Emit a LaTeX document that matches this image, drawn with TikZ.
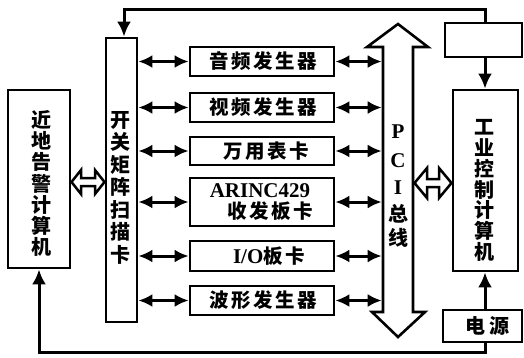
\documentclass[tikz,border=0pt]{standalone}
\usepackage{fontspec}
\setmainfont{Liberation Serif}
\newfontfamily\cjk{Noto Sans CJK SC}
\newfontfamily\cjkls{Noto Sans CJK SC}[LetterSpace=13]
\usetikzlibrary{arrows.meta,calc}
\tikzset{
  box/.style={draw, line width=2.8pt, inner sep=0pt, fill=white},
  arr/.style={line width=3pt, -{Latex[length=15pt,width=14pt]}},
  darr/.style={line width=3pt, {Latex[length=14pt,width=13pt]}-{Latex[length=14pt,width=13pt]}},
  hollow/.style={line width=2.5pt, fill=white, line join=miter},
  vtxt/.style={font=\cjk\bfseries\fontsize{20}{21}\selectfont, align=center, inner sep=0pt},
  mtxt/.style={font=\cjkls\bfseries\fontsize{19.5}{21}\selectfont, align=center, inner sep=0pt},
  ltxt/.style={font=\bfseries\fontsize{21}{24}\selectfont, inner sep=0pt}
}
\begin{document}
\begin{tikzpicture}[x=1pt,y=-1pt]
\useasboundingbox (0,0) rectangle (524,357);
% boxes
\node[box, minimum width=62pt, minimum height=178pt] (lbox) at (39,179) {};
\node[box, minimum width=31pt, minimum height=284pt] (sw) at (121.5,180) {};
\node[box, minimum width=144pt, minimum height=29pt, mtxt] (m1) at (262,61.5) {\hspace*{2pt}音频发生器};
\node[box, minimum width=144pt, minimum height=29pt, mtxt] (m2) at (262,107.5) {\hspace*{2pt}视频发生器};
\node[box, minimum width=144pt, minimum height=28pt, mtxt] (m3) at (262,151) {\hspace*{8pt}万用表卡};
\node[box, minimum width=144pt, minimum height=48pt, mtxt] (m4) at (262,202) {\hspace*{-4pt}{\rmfamily\fontsize{21}{21}\selectfont ARINC429}\\\hspace*{16pt}收发板卡};
\node[box, minimum width=144pt, minimum height=30pt, mtxt] (m5) at (262,256) {\hspace*{14pt}{\rmfamily\fontsize{21}{21}\selectfont I/O}板卡};
\node[box, minimum width=144pt, minimum height=29pt, mtxt] (m6) at (262,300.5) {\hspace*{2pt}波形发生器};
\node[box, minimum width=77pt, minimum height=34pt] (tr) at (483.5,40) {};
\node[box, minimum width=65pt, minimum height=181pt] (ic) at (485.5,180.5) {};
\node[box, minimum width=79pt, minimum height=32pt, vtxt] (pw) at (482.5,326) {\hspace*{10pt}电\hspace{5pt}源};
% vertical texts
\node[vtxt, font=\cjk\bfseries\fontsize{20}{21.2}\selectfont] (lboxt) at (41,183.5) {近\\地\\告\\警\\计\\算\\机};
\node[vtxt, font=\cjk\bfseries\fontsize{20}{22.5}\selectfont] (swt) at (120,187.5) {开\\关\\矩\\阵\\扫\\描\\卡};
\node[vtxt, font=\cjk\bfseries\fontsize{20}{20.8}\selectfont] (ict) at (484,190.5) {工\\业\\控\\制\\计\\算\\机};
% PCI bus arrow
\draw[line width=2.6pt, line join=miter, fill=white] (398,24) -- (428,47) -- (413,47) -- (413,312) -- (425,312) -- (398,337) -- (372,312) -- (383,312) -- (383,47) -- (367,47) -- cycle;
\node[ltxt] (pP) at (398,132) {P};
\node[ltxt] (pC) at (398,161) {C};
\node[ltxt] (pI) at (398,188) {I};
\node[vtxt] (pZ) at (398,214) {总};
\node[vtxt] (pX) at (398,238) {线};
\coordinate (pciL) at (381.7,0);
% middle arrows
\foreach \m in {m1,m2,m3,m4,m5,m6}{
  \draw[darr] (sw.east |- \m.west) -- (\m.west);
  \draw[darr] (\m.east) -- (\m.east -| pciL);
}
% outer connectors
\coordinate (topR) at (485,9);
\coordinate (topL) at (124,9);
\coordinate (botR) at (485,352);
\coordinate (botL) at (39,352);
\draw[arr] (tr.north -| topR) -- (topR) -- (topL) -- (sw.north -| topL);
\draw[arr] (tr.south -| topR) -- (ic.north -| topR);
\draw[arr] (pw.north -| topR) -- (ic.south -| topR);
\draw[arr] (pw.south -| botR) -- (botR) -- (botL) -- (lbox.south -| botL);
% hollow double arrows
\draw[hollow] (71.5,182) -- (81,170) -- (81,178) -- (95,178) -- (95,170) -- (104.5,182) -- (95,194) -- (95,186) -- (81,186) -- (81,194) -- cycle;
\draw[hollow] (414.5,183) -- (427,168) -- (427,179) -- (439,179) -- (439,168) -- (451.5,183) -- (439,198) -- (439,187) -- (427,187) -- (427,198) -- cycle;
\end{tikzpicture}
\end{document}
